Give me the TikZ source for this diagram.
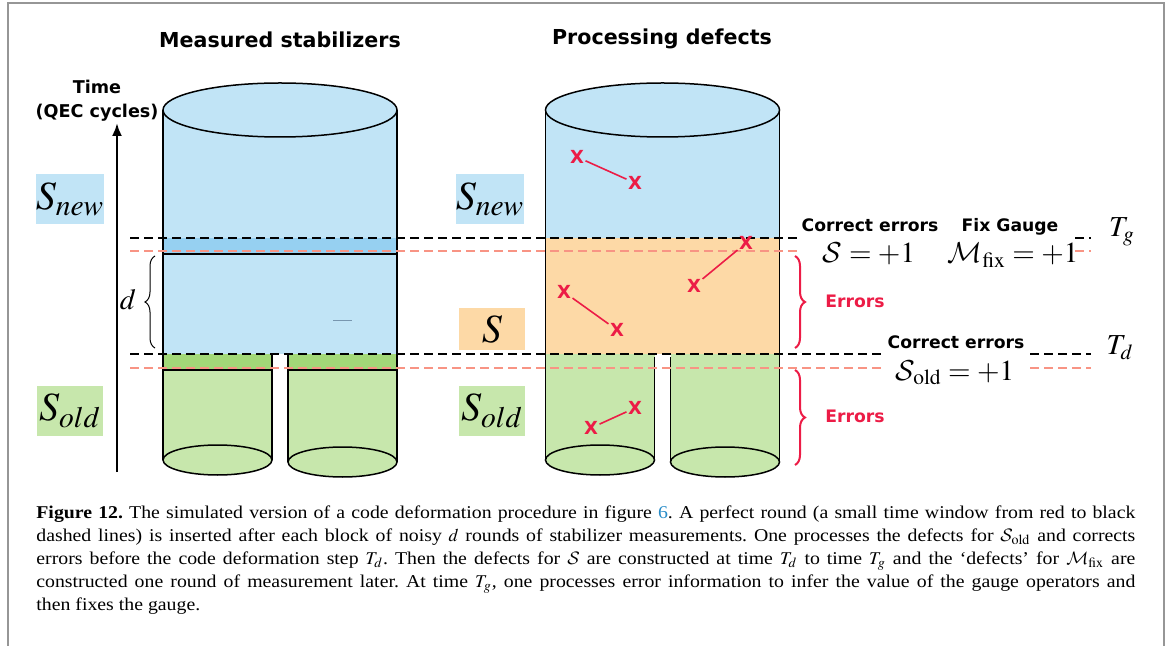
\documentclass[tikz,border=0pt]{standalone}
\usepackage{mathptmx}
\DeclareMathAlphabet{\mathcal}{OMS}{cmsy}{m}{n}
\usepackage{fontspec}
\setmainfont{Liberation Serif}
\setsansfont{DejaVu Sans}
\newfontfamily\capfont{Liberation Serif}[FakeStretch=1.1, Ligatures=TeX]
\usetikzlibrary{positioning, arrows.meta, decorations.pathreplacing}

\definecolor{bluefill}{RGB}{193,228,246}
\definecolor{bluedark}{RGB}{150,208,241}
\definecolor{greenfill}{RGB}{199,231,172}
\definecolor{greendark}{RGB}{162,216,120}
\definecolor{orangefill}{RGB}{253,217,166}
\definecolor{errred}{RGB}{236,28,70}
\definecolor{dashred}{RGB}{248,148,132}
\definecolor{framegray}{RGB}{150,150,150}
\definecolor{linkblue}{RGB}{40,140,200}
\definecolor{smudge}{RGB}{120,150,175}

\tikzset{
  title/.style={font=\sffamily\bfseries\fontsize{10.3}{12}\selectfont, anchor=base},
  lbl/.style={font=\sffamily\bfseries\fontsize{8.6}{12}\selectfont, anchor=base, inner sep=1pt},
  errlbl/.style={lbl, text=errred},
  eqn/.style={font=\fontsize{14.5}{16}\selectfont, anchor=base, inner sep=0pt},
  setbox/.style={minimum width=33pt, inner sep=0pt, font=\fontsize{20}{20}\selectfont},
  defect/.style={font=\sffamily\bfseries\fontsize{9}{10}\selectfont, text=errred, inner sep=0.6pt},
  blackdash/.style={black, line width=1.4pt, dash pattern=on 4.5pt off 2.5pt},
  reddash/.style={dashred, line width=1.4pt, dash pattern=on 4.5pt off 2.5pt},
  errbrace/.style={errred, line width=1pt, decorate, decoration={brace, amplitude=5pt}}
}

\begin{document}
\begin{tikzpicture}[x=0.5pt, y=-0.5pt]
  \useasboundingbox (0,0) rectangle (1171,646);
  \draw[framegray, line width=1pt] (8,646) -- (8,3) -- (1164,3) -- (1164,646);

  \begin{scope}[line width=0.75pt]
    \fill[bluefill] (163,110) rectangle (397,354);
    \fill[bluedark] (163,238) rectangle (397,254);
    \fill[greenfill] (163,354) rectangle (272,460);
    \fill[greenfill] (288,354) rectangle (397,462);
    \fill[greendark] (163,354) rectangle (272,370);
    \fill[greendark] (288,354) rectangle (397,370);
    \filldraw[fill=greenfill] (217.5,460) ellipse (54.5 and 15);
    \filldraw[fill=greenfill] (342.5,462) ellipse (54.5 and 15);
    \filldraw[fill=bluefill] (280,110) ellipse (117 and 27);
    \draw (163,110) -- (163,460);
    \draw (397,110) -- (397,462);
    \draw (272,354) -- (272,460);
    \draw (288,354) -- (288,462);
    \draw (163,254) -- (397,254);
    \draw (163,370) -- (272,370);
    \draw (288,370) -- (397,370);
    \draw[smudge, line width=0.5pt] (333,321) -- (352,321);
  \end{scope}

  \begin{scope}[line width=0.75pt, shift={(382.5,0)}]
    \fill[bluefill] (163,110) rectangle (397,238);
    \fill[orangefill] (163,238) rectangle (397,354);
    \fill[greenfill] (163,354) rectangle (272,460);
    \fill[greenfill] (288,354) rectangle (397,462);
    \filldraw[fill=greenfill] (217.5,460) ellipse (54.5 and 15);
    \filldraw[fill=greenfill] (342.5,462) ellipse (54.5 and 15);
    \filldraw[fill=bluefill] (280,110) ellipse (117 and 27);
    \draw (163,110) -- (163,460);
    \draw (397,110) -- (397,462);
    \draw (272,357) -- (272,460);
    \draw (288,357) -- (288,462);
  \end{scope}

  \draw[blackdash] (130,238) -- (797,238);
  \draw[reddash] (130,251) -- (797,251);
  \draw[blackdash] (130,354) -- (882,354);
  \draw[reddash] (130,368) -- (882,368);
  \draw[blackdash] (1075,238) -- (1091,238);
  \draw[reddash] (1075,251) -- (1091,251);
  \draw[blackdash] (1030,354) -- (1091,354);
  \draw[reddash] (1030,368) -- (1091,368);

  \node (mstitle) [title] at (280,48) {Measured stabilizers};
  \node (pdtitle) [title] at (662,45) {Processing defects};
  \node (timelbl) [font=\sffamily\bfseries\fontsize{8.8}{12}\selectfont, align=center] at (97,101) {Time\\(QEC cycles)};
  \coordinate (tbot) at (117,472);
  \coordinate (ttop) at (117,123);
  \draw[line width=1.2pt, -{Latex[length=6.5pt, width=5pt]}] (tbot) -- (ttop);

  \begin{scope}[every node/.style={setbox}]
    \node (snewl) [fill=bluefill, minimum height=25pt] at (70,199) {$S_{new}$};
    \node (soldl) [fill=greenfill, minimum height=25pt] at (70,411) {$S_{old}$};
    \node (snewr) [fill=bluefill, minimum height=25pt] at (490,199) {$S_{new}$};
    \node (sr) [fill=orangefill, minimum height=21pt] at (492,329) {$S$};
    \node (soldr) [fill=greenfill, minimum height=25pt] at (492,411) {$S_{old}$};
  \end{scope}

  \draw[line width=0.5pt, decorate, decoration={brace, amplitude=5pt}] (155,348) -- (155,256);
  \node (dlbl) [font=\fontsize{14.6}{16}\selectfont] at (128,300) {$d$};

  \begin{scope}[every node/.style={defect}]
    \node (xa) at (577,157) {X};
    \node (xb) at (635,183) {X};
    \node (xc) at (746,243) {X};
    \node (xd) at (694,286) {X};
    \node (xe) at (564,292) {X};
    \node (xf) at (617,330) {X};
    \node (xg) at (635,408) {X};
    \node (xh) at (591,428) {X};
  \end{scope}
  \begin{scope}[color=errred, line width=0.8pt]
    \path (xa) edge (xb);
    \path (xc) edge (xd);
    \path (xe) edge (xf);
    \path (xg) edge (xh);
  \end{scope}

  \draw[errbrace] (795,256) -- (795,348);
  \draw[errbrace] (795,370) -- (795,465);
  \node (err1) [errlbl] at (855,307) {Errors};
  \node (err2) [errlbl] at (855,422) {Errors};

  \node (corr1) [lbl] at (870,232) {Correct errors};
  \node (fixg) [lbl] at (1010,232) {Fix Gauge};
  \node (eq1) [eqn] at (869,263) {$\mathcal{S} = +1$};
  \node (eq2) [eqn] at (1013,263) {$\mathcal{M}_{\rm fix} = +1$};
  \node (tg) [eqn] at (1122,237) {$T_g$};
  \node (corr2) [lbl] at (956,349) {Correct errors};
  \node (eq3) [eqn] at (955,380) {$\mathcal{S}_{\rm old} = +1$};
  \node (td) [eqn] at (1120,355) {$T_d$};

  \node (caption) [anchor=north west, text width=549.5pt, align=justify, inner sep=0pt,
    font=\capfont\fontsize{9}{11.6}\selectfont\frenchspacing] at (36,505)
    {\textbf{Figure 12.} The simulated version of a code deformation procedure in figure \textcolor{linkblue}{6}. A perfect round (a small time window from red to black\linebreak
    dashed lines) is inserted after each block of noisy $d$ rounds of stabilizer measurements. One processes the defects for $\mathcal{S}_{\rm old}$ and corrects\linebreak
    errors before the code deformation step $T_d$. Then the defects for $\mathcal{S}$ are constructed at time $T_d$ to time $T_g$ and the ‘defects’ for $\mathcal{M}_{\rm fix}$ are\linebreak
    constructed one round of measurement later. At time $T_g$, one processes error information to infer the value of the gauge operators and\linebreak
    then fixes the gauge.};
\end{tikzpicture}
\end{document}
